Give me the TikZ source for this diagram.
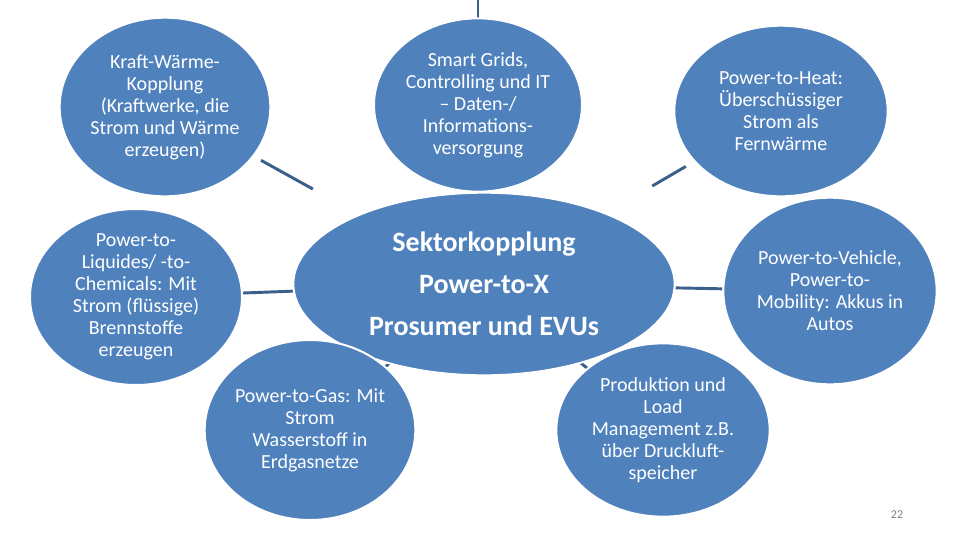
\documentclass[tikz,border=0pt]{standalone}
\usepackage{fontspec}
\setmainfont{Carlito}
\usetikzlibrary{shapes.geometric,backgrounds}
\definecolor{bubblefill}{HTML}{4F81BD}
\definecolor{spokeline}{HTML}{3A5F8B}
\tikzset{
  bubble/.style={ellipse,fill=bubblefill,draw=white,line width=1.5pt,text=white,
    align=center,inner sep=-3pt,font=\fontsize{15}{16.5}\selectfont},
  hub/.style={bubble,font=\bfseries\fontsize{21}{31.5}\selectfont},
  spoke/.style={draw=spokeline,line width=2.2pt}
}
\begin{document}
\begin{tikzpicture}[x=0.75pt,y=-0.75pt]
\useasboundingbox (0,0) rectangle (960,540);
% centre
\node[hub,minimum width=286pt,minimum height=137pt] (sek) at (484,284)
  {Sektorkopplung\\Power-to-X\\Prosumer und EVUs};
% satellites
\node[bubble,minimum width=158pt,minimum height=134pt] (kwk) at (165,107)
  {Kraft-Wärme-\\Kopplung\\(Kraftwerke, die\\Strom und Wärme\\erzeugen)};
\node[bubble,minimum width=156pt,minimum height=130pt] (smart) at (478,105)
  {Smart Grids,\\Controlling und IT\\-- Daten-/\\Informations-\\versorgung};
\node[bubble,minimum width=160pt,minimum height=128pt] (heat) at (781,111)
  {Power-to-Heat:\\Überschüssiger\\Strom als\\Fernwärme};
\node[bubble,minimum width=159pt,minimum height=132pt] (liq) at (136,297)
  {Power-to-\\Liquides/ -to-\\Chemicals: Mit\\Strom (flüssige)\\Brennstoffe\\erzeugen};
\node[bubble,minimum width=160pt,minimum height=140pt] (mob) at (830,291)
  {Power-to-Vehicle,\\Power-to-\\Mobility: Akkus in\\Autos};
\node[bubble,minimum width=158pt,minimum height=135pt] (gas) at (310,430)
  {Power-to-Gas: Mit\\Strom\\Wasserstoff in\\Erdgasnetze};
\node[bubble,minimum width=160pt,minimum height=130pt] (prod) at (663,430)
  {Produktion und\\Load\\Management z.B.\\über Druckluft-\\speicher};
\node[text=gray,font=\fontsize{9}{11}\selectfont] (page) at (897,515) {22};
\coordinate (up) at (478,-30);
\begin{scope}[on background layer]
\draw[spoke] (smart.center) -- (up);
\draw[spoke,shorten <=6pt,shorten >=39pt] (kwk) -- (sek);
\draw[spoke,shorten <=7pt,shorten >=40pt] (heat) -- (sek);
\draw[spoke] (liq) -- (sek);
\draw[spoke] (mob) -- (sek);
\draw[spoke] (sek.center) -- (gas.center);
\draw[spoke] (sek.center) -- (prod.center);
\end{scope}
\end{tikzpicture}
\end{document}
